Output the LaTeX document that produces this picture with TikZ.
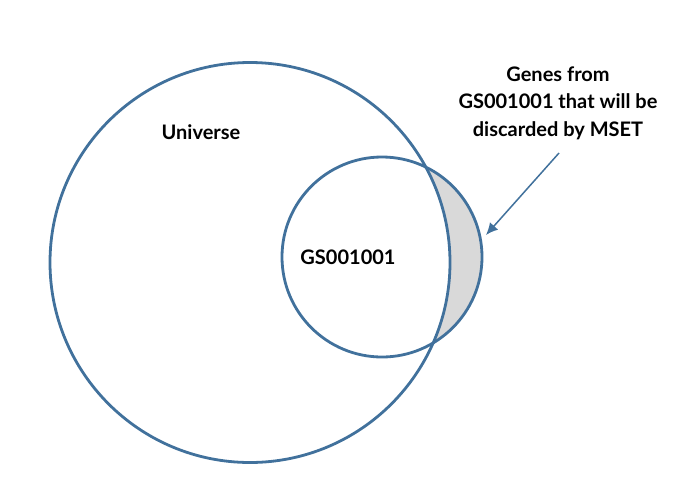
\documentclass[tikz,border=0pt]{standalone}
\usepackage{fontspec}
\setmainfont{Lato}
\definecolor{vblue}{HTML}{41719C}
\definecolor{vgray}{HTML}{D9D9D9}
\tikzset{
  setcircle/.style={draw=vblue, line width=2.8pt},
  lbl/.style={font=\bfseries\fontsize{20}{27.5}\selectfont, text=black, align=center, inner sep=0pt},
  pointer/.style={draw=vblue, line width=1.5pt, -{Latex[length=12pt,width=11pt]}}
}
\usetikzlibrary{arrows.meta}
\begin{document}
\begin{tikzpicture}[x=1pt,y=-1pt]
\useasboundingbox (0,0) rectangle (680,488);
\begin{scope}
  \clip (382,257) circle (100);
  \fill[vgray, even odd rule] (0,0) rectangle (680,488) (250,262.5) circle (200);
\end{scope}
\draw[setcircle] (250,262.5) circle (200);
\draw[setcircle] (382,257) circle (100);
\node[lbl] (univ) at (201,132) {Universe};
\node[lbl] (gs) at (348,257) {GS001001};
\node[lbl] (note) at (558,103) {Genes from\\GS001001 that will be\\discarded by MSET};
\coordinate (tip) at (486,235);
\draw[pointer] (559,153) -- (tip);
\end{tikzpicture}
\end{document}
